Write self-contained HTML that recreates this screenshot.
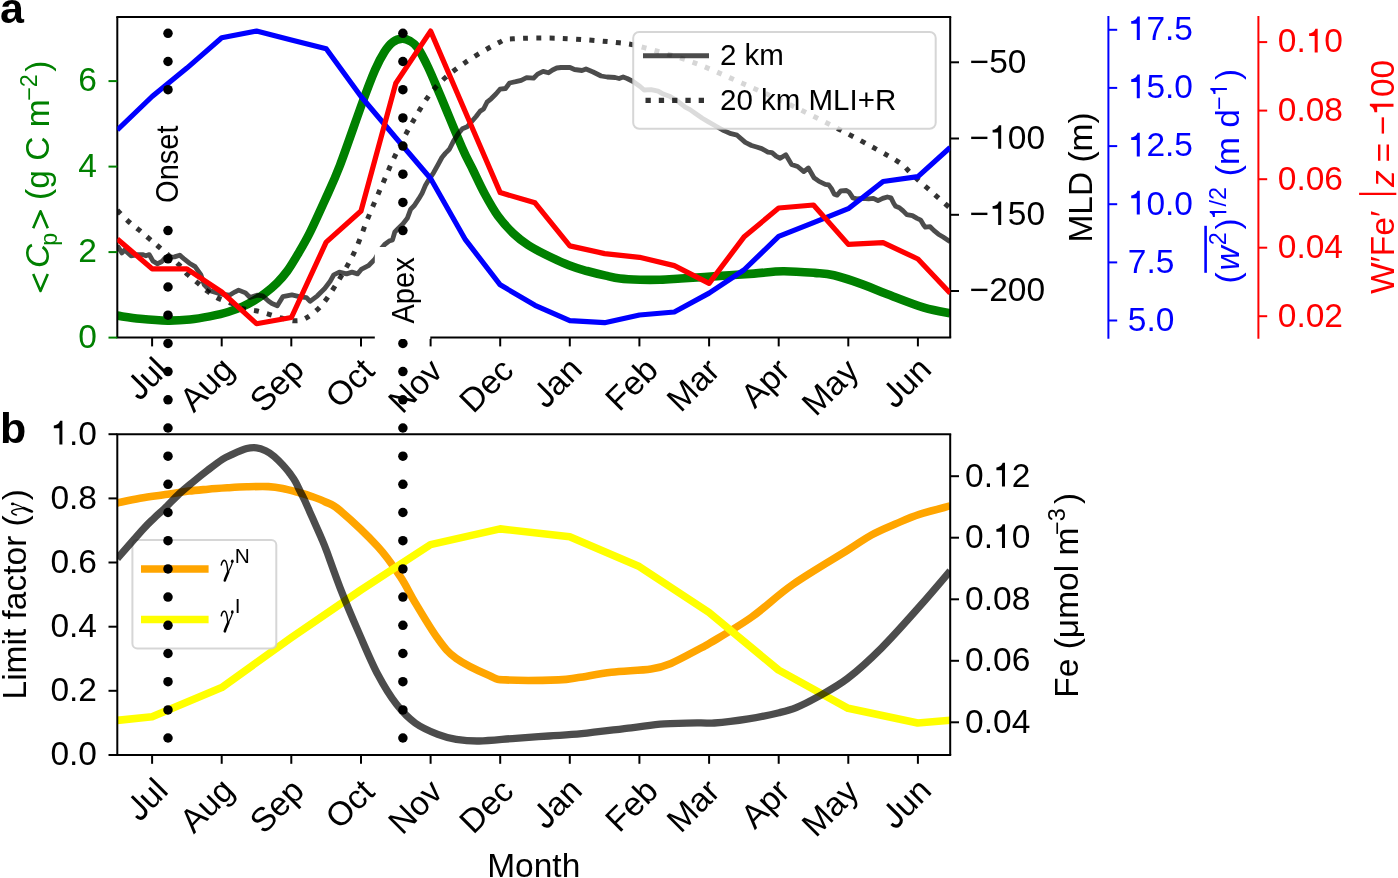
<!DOCTYPE html><html><head><meta charset="utf-8"><style>html,body{margin:0;padding:0;background:#fff;}svg{display:block;will-change:transform;}text{font-family:"Liberation Sans",sans-serif;}</style></head><body><svg width="1398" height="878" viewBox="0 0 1398 878" font-family="Liberation Sans, sans-serif">
<defs><clipPath id="ca"><rect x="117.3" y="16.9" width="832.9" height="320.7"/></clipPath>
<clipPath id="cb"><rect x="117.3" y="434.2" width="832.9" height="320.8"/></clipPath></defs>
<defs><g id="gam" fill="none" stroke="#000" stroke-linecap="round"><path d="M0.7 -9.5 C1.2 -13 2.9 -14.7 4.4 -13.9 C6 -12.9 6.8 -8.5 7.3 -2" stroke-width="1.5"/><path d="M11.8 -13 C11.6 -9.5 9.4 -6 7.4 -2" stroke-width="1.2"/><path d="M7.6 -2.5 C6.4 0.5 4.9 3.5 4.2 6" stroke-width="2.6"/><ellipse cx="11.7" cy="-13.3" rx="1.4" ry="1.7" fill="#000" stroke="none"/></g><path id="J" d="M393 -718 L393 -230 C393 -80 325 -27 222 -27 C120 -27 67 -85 67 -210" fill="none" stroke="#000" stroke-width="92"/><path id="one" d="M268 0 L358 0 L358 -706 L288 -706 C272 -640 222 -577 102 -569 L102 -487 L268 -487 Z"/></defs>
<rect width="1398" height="878" fill="#fff"/>
<g clip-path="url(#ca)">
<path d="M117.3 315.6 C121.1 316.1 131.6 318 140 318.8 C148.4 319.6 159.3 320.5 167.6 320.6 C175.9 320.7 183 320.2 190 319.5 C197 318.8 203.5 317.6 209.8 316.4 C216.1 315.1 222.5 313.7 228 312 C233.5 310.3 238.5 308.4 243 306.4 C247.5 304.4 251.3 302.2 255 300 C258.7 297.8 261.5 295.9 265.2 293.1 C268.9 290.3 273.3 286.7 277 283 C280.7 279.3 283.9 275.7 287.4 270.9 C290.9 266.1 294.3 260.3 298 254 C301.7 247.7 305.1 242.2 309.6 233.2 C314.1 224.2 319.9 211.3 325 200 C330.1 188.7 333.8 181.3 340 165.2 C346.2 149 356.4 119 362.2 103.1 C368 87.2 371.3 78.5 375 70 C378.7 61.5 381.3 56.8 384.3 52.1 C387.3 47.4 390 44.2 393 42 C396 39.8 399.3 38.8 402.1 38.6 C404.9 38.4 407.4 39.5 410 41 C412.6 42.5 414.6 43.4 417.6 47.7 C420.6 52 424.3 59.2 428 67 C431.7 74.8 434.1 80.9 439.8 94.3 C445.5 107.7 456.5 134.9 462 147.5 C467.5 160.1 469.2 162.2 473 170 C476.8 177.8 480.6 186.3 484.8 194 C489 201.7 493.2 209.4 498 216 C502.8 222.6 508.5 228.8 513.5 233.6 C518.5 238.4 522.9 241.6 528 245 C533.1 248.4 537.5 250.6 544.3 254 C551.1 257.4 561.8 262.5 568.9 265.3 C576 268.1 580.9 269.3 587 271 C593.1 272.7 600.3 274.4 605.8 275.6 C611.3 276.9 614.3 277.8 620 278.5 C625.7 279.2 633.3 279.5 640 279.7 C646.7 279.9 653.2 279.9 660 279.7 C666.8 279.5 671.2 279.1 680.8 278.5 C690.3 277.9 705.1 276.9 717.3 276.1 C729.5 275.3 742.8 274.4 753.8 273.6 C764.8 272.8 772.9 271.3 783 271.2 C793.1 271.1 806.1 272.2 814.6 272.9 C823.1 273.6 825.9 273.4 834 275.3 C842.1 277.2 854.3 281.4 863.2 284.6 C872.1 287.8 877.4 290.5 887.5 294.3 C897.6 298.1 913.5 304.5 924 307.7 C934.5 310.9 945.8 312.4 950.2 313.3" fill="none" stroke="#008000" stroke-width="8.6" stroke-linejoin="round" stroke-linecap="butt"/>
</g>
<line x1="116.3" y1="16.9" x2="951.2" y2="16.9" stroke="#000" stroke-width="2"/>
<line x1="116.3" y1="337.6" x2="951.2" y2="337.6" stroke="#000" stroke-width="2"/>
<line x1="117.3" y1="16.9" x2="117.3" y2="337.6" stroke="#000" stroke-width="2"/>
<line x1="950.2" y1="16.9" x2="950.2" y2="337.6" stroke="#000" stroke-width="2"/>
<line x1="108.5" y1="337.6" x2="117.3" y2="337.6" stroke="#008000" stroke-width="2"/>
<text x="97" y="347.9" font-size="33.5" fill="#008000" text-anchor="end" >0</text>
<line x1="108.5" y1="252.1" x2="117.3" y2="252.1" stroke="#008000" stroke-width="2"/>
<text x="97" y="262.4" font-size="33.5" fill="#008000" text-anchor="end" >2</text>
<line x1="108.5" y1="166.6" x2="117.3" y2="166.6" stroke="#008000" stroke-width="2"/>
<text x="97" y="176.9" font-size="33.5" fill="#008000" text-anchor="end" >4</text>
<line x1="108.5" y1="81.1" x2="117.3" y2="81.1" stroke="#008000" stroke-width="2"/>
<text x="97" y="91.4" font-size="33.5" fill="#008000" text-anchor="end" >6</text>
<line x1="152.1" y1="337.6" x2="152.1" y2="346.4" stroke="#000" stroke-width="2"/>
<text x="153.1" y="380.1" font-size="33.5" text-anchor="end" transform="rotate(-45 150.9 355.6)"> ul</text>
<use href="#J" transform="rotate(-45 150.9 355.6) translate(110.3 380.1) scale(0.03350)"/>
<line x1="221.7" y1="337.6" x2="221.7" y2="346.4" stroke="#000" stroke-width="2"/>
<text x="219.2" y="380.1" font-size="33.5" text-anchor="end" transform="rotate(-45 217 355.6)">Aug</text>
<line x1="291.3" y1="337.6" x2="291.3" y2="346.4" stroke="#000" stroke-width="2"/>
<text x="289" y="380.1" font-size="33.5" text-anchor="end" transform="rotate(-45 287.6 355.6)">Sep</text>
<line x1="361" y1="337.6" x2="361" y2="346.4" stroke="#000" stroke-width="2"/>
<text x="359" y="380.1" font-size="33.5" text-anchor="end" transform="rotate(-45 358.8 355.6)">Oct</text>
<line x1="430.6" y1="337.6" x2="430.6" y2="346.4" stroke="#000" stroke-width="2"/>
<text x="427" y="380.1" font-size="33.5" text-anchor="end" transform="rotate(-45 426.9 355.6)">Nov</text>
<line x1="500.2" y1="337.6" x2="500.2" y2="346.4" stroke="#000" stroke-width="2"/>
<text x="498.4" y="380.1" font-size="33.5" text-anchor="end" transform="rotate(-45 497.5 355.6)">Dec</text>
<line x1="569.8" y1="337.6" x2="569.8" y2="346.4" stroke="#000" stroke-width="2"/>
<text x="567.3" y="380.1" font-size="33.5" text-anchor="end" transform="rotate(-45 565.1 355.6)"> an</text>
<use href="#J" transform="rotate(-45 565.1 355.6) translate(513.3 380.1) scale(0.03350)"/>
<line x1="639.4" y1="337.6" x2="639.4" y2="346.4" stroke="#000" stroke-width="2"/>
<text x="643.1" y="380.1" font-size="33.5" text-anchor="end" transform="rotate(-45 641.7 355.6)">Feb</text>
<line x1="709.1" y1="337.6" x2="709.1" y2="346.4" stroke="#000" stroke-width="2"/>
<text x="704.4" y="380.1" font-size="33.5" text-anchor="end" transform="rotate(-45 703.9 355.6)">Mar</text>
<line x1="778.7" y1="337.6" x2="778.7" y2="346.4" stroke="#000" stroke-width="2"/>
<text x="774.5" y="380.1" font-size="33.5" text-anchor="end" transform="rotate(-45 774 355.6)">Apr</text>
<line x1="848.3" y1="337.6" x2="848.3" y2="346.4" stroke="#000" stroke-width="2"/>
<text x="843.2" y="380.1" font-size="33.5" text-anchor="end" transform="rotate(-45 843.1 355.6)">May</text>
<line x1="917.9" y1="337.6" x2="917.9" y2="346.4" stroke="#000" stroke-width="2"/>
<text x="916.4" y="380.1" font-size="33.5" text-anchor="end" transform="rotate(-45 914.2 355.6)"> un</text>
<use href="#J" transform="rotate(-45 914.2 355.6) translate(862.4 380.1) scale(0.03350)"/>
<g clip-path="url(#ca)">
<path d="M117.3 247 L118.4 247.2 L121.9 252.9 L124.7 250 L131 255.8 L137.9 254.6 L142.5 254.6 L145.9 255.8 L149.3 254.6 L152.8 260.9 L157.3 263.8 L161.9 261.5 L165.4 257.5 L174.5 256.9 L179.7 255.2 L183.7 258.6 L189.4 263.2 L195.1 266.6 L200.8 274.6 L204.3 284.9 L210 290.7 L215.7 292.4 L221.4 294.1 L229.4 295.2 L235.2 291.8 L238.6 290.1 L245.5 292.9 L250 297.5 L256.9 295.2 L262.6 295.8 L268.4 301 L272 303.5 L277.3 305.8 L282.8 296.7 L291.9 294.9 L299.2 296.7 L306.5 297.6 L310.1 301.3 L317.4 295.8 L324.7 288.5 L330.2 281.2 L333.8 274.8 L339.3 272.1 L346.6 273.9 L352 272.1 L357.5 273.9 L361.2 269.4 L368.4 265.7 L374.8 259.3 L380 250 L384.6 244.5 L389.1 241.1 L392.5 239.9 L394.8 232 L398.2 228.5 L402.8 224 L407.3 218.3 L410.7 209.2 L414.1 205.8 L418.7 198.9 L422.1 193.2 L425.5 185.3 L428.9 179.6 L433.5 172.8 L438 164.8 L441.9 157.5 L445.3 153.4 L449.4 149.3 L453.5 141.1 L458.3 133.6 L462.4 128.8 L467.2 126.8 L471.3 122 L476.1 116.5 L480.2 111.1 L483.6 109 L487 102.2 L491.1 98.8 L495.9 94 L500 89.2 L505.5 88.5 L509.6 83 L515.7 81.7 L521.2 80.3 L526.6 77.6 L533.5 78.2 L537.6 74.1 L543.1 71.4 L548.5 72.8 L552.6 70 L556.7 68 L561 67.5 L570 67.5 L574.5 69.5 L582 70.5 L586 69 L593.1 72 L601.1 76 L607.1 77 L615.1 77.5 L619.1 78.5 L623.1 77 L627.1 78.5 L633.1 81.5 L640.1 86.5 L644.1 90 L651.1 89.6 L658.1 91.1 L663.2 94.1 L670.2 96.6 L678.2 101.6 L685.2 107.1 L690 109.6 L695.1 113.2 L702.3 118.3 L708.4 121.9 L716.6 126.5 L723.8 130.6 L731 133.7 L737.1 135.2 L745.3 142.4 L751.5 145.5 L756.6 147 L761.7 148.6 L767.9 152.1 L772 152.7 L776.1 156.2 L780.2 158.3 L785.8 154.7 L791.5 164.4 L797.6 166.5 L803.8 171.6 L808.4 168 L814 177.8 L819.1 181.4 L825.3 184.3 L828.7 184.9 L831.5 188.6 L834.3 194.2 L837.1 195.1 L840.8 190.9 L846.4 190.5 L849.2 192.3 L852.9 197.9 L856.6 198.8 L862.2 198.4 L868.7 198.8 L873.4 198.4 L878 200.7 L882.7 198.4 L887.3 197 L891 197.9 L893.8 203.5 L895.7 206.3 L899.4 207.7 L903.1 210.9 L906.8 214.6 L912.4 215.6 L917.1 218.4 L920.8 220.2 L923.6 224.9 L925.4 227.2 L930.1 226.7 L933.8 230.4 L938.4 234.2 L943.1 237 L948.7 240.7 L950.2 241.6" fill="none" stroke="#000" stroke-width="4.8" stroke-linejoin="round" stroke-opacity="0.7"/>
<path d="M117.3 210.3 C119.1 212.1 124.8 218.1 128.3 221.3 C131.9 224.5 135.2 226.8 138.6 229.6 C142 232.4 145.3 235.4 148.6 238.2 C151.9 241 153.4 242.2 158.4 246.5 C163.4 250.8 173.6 259.6 178.5 264.3 C183.4 269 184.4 271.5 187.7 274.6 C190.9 277.8 194.6 280.3 198 283.2 C201.4 286.1 204.8 289.2 208.3 291.8 C211.8 294.4 215.3 296.8 219.1 298.7 C222.9 300.6 227.1 301.5 231.2 303.2 C235.3 304.9 239.7 307.8 243.8 309 C247.9 310.2 251.7 309.8 255.8 310.7 C259.9 311.6 264.2 312.9 268.4 314.1 C272.6 315.3 276.7 316.9 281 318 C285.3 319.1 290 320.7 294 320.8 C298 320.9 300.7 321 305.1 318.6 C309.5 316.2 315.4 312.1 320.6 306.4 C325.8 300.7 330.6 293.1 336.2 284.2 C341.8 275.3 348.7 263.9 353.9 253.2 C359.1 242.5 363.5 228.9 367.2 219.9 C370.9 210.9 373.2 205.5 376 199 C378.8 192.5 380.9 187.8 384 180.7 C387.1 173.6 389.9 166.3 394.8 156.3 C399.7 146.3 406.4 132.4 413.2 120.9 C419.9 109.5 426.8 97.2 435.3 87.6 C443.8 78 453.5 70.8 464.2 63.2 C474.9 55.6 491.5 46.3 499.6 42.2 C507.7 38.1 502.6 39.4 513 38.8 C523.4 38.2 544 37.7 561.7 38.4 C579.4 39.1 605.6 41.2 619.4 42.8 C633.2 44.3 632 44.5 644.3 47.7 C656.6 51 676.8 56.4 693 62.3 C709.2 68.2 725.4 75.9 741.6 83 C757.8 90.1 774 97.1 790.2 104.8 C806.4 112.5 824.7 121.9 838.9 129.2 C853.1 136.5 865.1 143 875.3 148.6 C885.5 154.2 894.3 159.1 900 163 C905.7 166.9 906.4 168.9 909.6 171.9 C912.8 174.9 916.1 178.2 919.4 181.2 C922.7 184.2 926.3 187.1 929.6 190 C932.9 192.9 936 195.8 939.4 198.8 C942.8 201.8 948.4 206.6 950.2 208.2" fill="none" stroke="#000" stroke-width="5" stroke-linejoin="round" stroke-opacity="0.8" stroke-dasharray="5 8.25" stroke-linejoin="miter"/>
</g>
<line x1="950.2" y1="62.3" x2="959" y2="62.3" stroke="#000" stroke-width="2"/>
<text x="969.6" y="72.6" font-size="33.5" fill="#000" text-anchor="start" >−50</text>
<line x1="950.2" y1="138.5" x2="959" y2="138.5" stroke="#000" stroke-width="2"/>
<text x="969.6" y="148.8" font-size="33.5" fill="#000">− 00</text>
<use href="#one" fill="#000" transform="translate(989.2 148.8) scale(0.03350)"/>
<line x1="950.2" y1="214.8" x2="959" y2="214.8" stroke="#000" stroke-width="2"/>
<text x="969.6" y="225.1" font-size="33.5" fill="#000">− 50</text>
<use href="#one" fill="#000" transform="translate(989.2 225.1) scale(0.03350)"/>
<line x1="950.2" y1="291" x2="959" y2="291" stroke="#000" stroke-width="2"/>
<text x="969.6" y="301.3" font-size="33.5" fill="#000" text-anchor="start" >−200</text>
<rect x="633.2" y="32" width="302.5" height="96.8" rx="6" fill="#fff" fill-opacity="0.8" stroke="#ccc" stroke-opacity="0.8" stroke-width="2"/>
<line x1="643" y1="55.7" x2="709" y2="55.7" stroke="#000" stroke-opacity="0.7" stroke-width="5"/>
<line x1="643" y1="100.3" x2="709" y2="100.3" stroke="#000" stroke-opacity="0.8" stroke-width="5.3" stroke-dasharray="5.3 8" stroke-dashoffset="10.8"/>
<text x="720" y="65.3" font-size="29.5" fill="#000" text-anchor="start" >2 km</text>
<text x="720" y="110.2" font-size="29.5" fill="#000" text-anchor="start" >20 km MLI+R</text>
<g clip-path="url(#ca)">
<path d="M117.3 130 L152.1 96.5 L186.9 68.1 L221.7 37.7 L256.5 31.1 L291.4 40 L326.2 48.8 L361 96.5 L395.8 137.7 L430.6 178.5 L465.4 239.7 L500.2 284.8 L535 305.3 L569.8 320.7 L604.6 322.7 L639.5 315 L674.3 312 L709.1 293.1 L743.9 270 L778.7 236.4 L813.5 222.6 L848.3 208.7 L883.1 181.5 L917.9 176.6 L950.2 147.4" fill="none" stroke="#0000ff" stroke-width="5.2" stroke-linejoin="round" />
<path d="M117.3 239 L152.1 268.8 L186.9 268.8 L221.7 292 L256.5 323.7 L291.4 317.5 L326.2 242.1 L361 211 L395.8 83.2 L430.6 31.1 L465.4 112 L500.2 192.6 L535 202.8 L569.8 245.9 L604.6 253.6 L639.5 257.3 L674.3 265.6 L709.1 283.4 L743.9 237.1 L778.7 208 L813.5 205 L848.3 244.4 L883.1 242.7 L917.9 259 L950.2 293.1" fill="none" stroke="#ff0000" stroke-width="5.2" stroke-linejoin="round" />
</g>
<line x1="1108.4" y1="16.1" x2="1108.4" y2="338.7" stroke="#0000ff" stroke-width="2"/>
<line x1="1108.4" y1="29.8" x2="1117.2" y2="29.8" stroke="#0000ff" stroke-width="2"/>
<text x="1127.8" y="40.1" font-size="33.5" fill="#0000ff"> 7.5</text>
<use href="#one" fill="#0000ff" transform="translate(1127.8 40.1) scale(0.03350)"/>
<line x1="1108.4" y1="87.9" x2="1117.2" y2="87.9" stroke="#0000ff" stroke-width="2"/>
<text x="1127.8" y="98.2" font-size="33.5" fill="#0000ff"> 5.0</text>
<use href="#one" fill="#0000ff" transform="translate(1127.8 98.2) scale(0.03350)"/>
<line x1="1108.4" y1="146.1" x2="1117.2" y2="146.1" stroke="#0000ff" stroke-width="2"/>
<text x="1127.8" y="156.4" font-size="33.5" fill="#0000ff"> 2.5</text>
<use href="#one" fill="#0000ff" transform="translate(1127.8 156.4) scale(0.03350)"/>
<line x1="1108.4" y1="204.2" x2="1117.2" y2="204.2" stroke="#0000ff" stroke-width="2"/>
<text x="1127.8" y="214.5" font-size="33.5" fill="#0000ff"> 0.0</text>
<use href="#one" fill="#0000ff" transform="translate(1127.8 214.5) scale(0.03350)"/>
<line x1="1108.4" y1="262.4" x2="1117.2" y2="262.4" stroke="#0000ff" stroke-width="2"/>
<text x="1127.8" y="272.7" font-size="33.5" fill="#0000ff" text-anchor="start" >7.5</text>
<line x1="1108.4" y1="320.5" x2="1117.2" y2="320.5" stroke="#0000ff" stroke-width="2"/>
<text x="1127.8" y="330.8" font-size="33.5" fill="#0000ff" text-anchor="start" >5.0</text>
<line x1="1258.4" y1="16.1" x2="1258.4" y2="338.7" stroke="#ff0000" stroke-width="2"/>
<line x1="1258.4" y1="42.1" x2="1267.2" y2="42.1" stroke="#ff0000" stroke-width="2"/>
<text x="1277.8" y="52.4" font-size="33.5" fill="#ff0000">0. 0</text>
<use href="#one" fill="#ff0000" transform="translate(1305.7 52.4) scale(0.03350)"/>
<line x1="1258.4" y1="110.6" x2="1267.2" y2="110.6" stroke="#ff0000" stroke-width="2"/>
<text x="1277.8" y="120.9" font-size="33.5" fill="#ff0000" text-anchor="start" >0.08</text>
<line x1="1258.4" y1="179.2" x2="1267.2" y2="179.2" stroke="#ff0000" stroke-width="2"/>
<text x="1277.8" y="189.5" font-size="33.5" fill="#ff0000" text-anchor="start" >0.06</text>
<line x1="1258.4" y1="247.7" x2="1267.2" y2="247.7" stroke="#ff0000" stroke-width="2"/>
<text x="1277.8" y="258" font-size="33.5" fill="#ff0000" text-anchor="start" >0.04</text>
<line x1="1258.4" y1="316.2" x2="1267.2" y2="316.2" stroke="#ff0000" stroke-width="2"/>
<text x="1277.8" y="326.5" font-size="33.5" fill="#ff0000" text-anchor="start" >0.02</text>
<g clip-path="url(#cb)">
<path d="M117.3 503 C121.1 502.2 131.3 499.7 140 498.2 C148.7 496.7 161.3 495.2 169.4 494 C177.5 492.8 182.2 491.9 188.7 491.1 C195.1 490.3 201.6 489.8 208.1 489.2 C214.6 488.6 220.9 488.2 227.4 487.8 C233.9 487.4 240 487 246.8 486.8 C253.7 486.6 262.5 486.3 268.5 486.6 C274.5 486.9 277.9 487.5 282.7 488.4 C287.4 489.3 292.2 490.7 297 492 C301.8 493.3 306.4 494.6 311.2 496.3 C315.9 498 320.7 499.6 325.5 502 C330.3 504.4 331.3 503.1 340 510.5 C348.7 517.9 367.6 535.5 377.7 546.5 C387.8 557.5 394 567.2 400.3 576.6 C406.6 586 409.1 592.6 415.3 602.9 C421.6 613.2 431 629.4 437.8 638.6 C444.6 647.9 447.6 652.2 456.2 658.4 C464.8 664.6 480.9 672 489.2 675.6 C497.4 679.2 494.1 679.2 505.7 679.9 C517.3 680.6 546.5 680.3 558.6 679.9 C570.7 679.5 569.6 678.9 578.4 677.6 C587.2 676.3 599.3 673.7 611.4 672.3 C623.5 670.9 641.2 670.5 651.1 669 C661 667.5 662.8 666.8 670.9 663.4 C679 660 693.4 652 700 648.5 C706.6 645 702.2 647.9 710.8 642.6 C719.4 637.4 738.1 626.7 751.8 617 C765.5 607.3 776.8 595.6 792.8 584.5 C808.8 573.4 834.4 558.5 847.5 550.3 C860.6 542 863.5 539.4 871.5 535 C879.5 530.6 887.4 527.4 895.4 524 C903.4 520.6 910.2 517.4 919.3 514.4 C928.4 511.4 945.1 507.3 950.2 505.9" fill="none" stroke="#ffa500" stroke-width="7.6" stroke-linejoin="round" />
<path d="M117.3 720.4 L152.1 716.8 L221.7 687.6 L291.3 637.7 L360.9 590 L430.5 544.6 L500.1 528.9 L569.7 536.8 L639.3 566.6 L708.9 612.4 L778.5 670 L848.1 708.3 L917.7 723 L950.2 720.3" fill="none" stroke="#ffff00" stroke-width="7.6" stroke-linejoin="round" />
</g>
<line x1="116.3" y1="434.2" x2="951.2" y2="434.2" stroke="#000" stroke-width="2"/>
<line x1="116.3" y1="755" x2="951.2" y2="755" stroke="#000" stroke-width="2"/>
<line x1="117.3" y1="434.2" x2="117.3" y2="755" stroke="#000" stroke-width="2"/>
<line x1="950.2" y1="434.2" x2="950.2" y2="755" stroke="#000" stroke-width="2"/>
<line x1="108.5" y1="755" x2="117.3" y2="755" stroke="#000" stroke-width="2"/>
<text x="97" y="765.3" font-size="33.5" fill="#000" text-anchor="end" >0.0</text>
<line x1="108.5" y1="690.8" x2="117.3" y2="690.8" stroke="#000" stroke-width="2"/>
<text x="97" y="701.1" font-size="33.5" fill="#000" text-anchor="end" >0.2</text>
<line x1="108.5" y1="626.7" x2="117.3" y2="626.7" stroke="#000" stroke-width="2"/>
<text x="97" y="637" font-size="33.5" fill="#000" text-anchor="end" >0.4</text>
<line x1="108.5" y1="562.5" x2="117.3" y2="562.5" stroke="#000" stroke-width="2"/>
<text x="97" y="572.8" font-size="33.5" fill="#000" text-anchor="end" >0.6</text>
<line x1="108.5" y1="498.4" x2="117.3" y2="498.4" stroke="#000" stroke-width="2"/>
<text x="97" y="508.7" font-size="33.5" fill="#000" text-anchor="end" >0.8</text>
<line x1="108.5" y1="434.2" x2="117.3" y2="434.2" stroke="#000" stroke-width="2"/>
<text x="50.4" y="444.5" font-size="33.5" fill="#000"> .0</text>
<use href="#one" fill="#000" transform="translate(50.4 444.5) scale(0.03350)"/>
<line x1="152.1" y1="755" x2="152.1" y2="763.8" stroke="#000" stroke-width="2"/>
<text x="153.1" y="801" font-size="33.5" text-anchor="end" transform="rotate(-45 150.9 776.5)"> ul</text>
<use href="#J" transform="rotate(-45 150.9 776.5) translate(110.3 801) scale(0.03350)"/>
<line x1="221.7" y1="755" x2="221.7" y2="763.8" stroke="#000" stroke-width="2"/>
<text x="219.2" y="801" font-size="33.5" text-anchor="end" transform="rotate(-45 217 776.5)">Aug</text>
<line x1="291.3" y1="755" x2="291.3" y2="763.8" stroke="#000" stroke-width="2"/>
<text x="289" y="801" font-size="33.5" text-anchor="end" transform="rotate(-45 287.6 776.5)">Sep</text>
<line x1="361" y1="755" x2="361" y2="763.8" stroke="#000" stroke-width="2"/>
<text x="359" y="801" font-size="33.5" text-anchor="end" transform="rotate(-45 358.8 776.5)">Oct</text>
<line x1="430.6" y1="755" x2="430.6" y2="763.8" stroke="#000" stroke-width="2"/>
<text x="427" y="801" font-size="33.5" text-anchor="end" transform="rotate(-45 426.9 776.5)">Nov</text>
<line x1="500.2" y1="755" x2="500.2" y2="763.8" stroke="#000" stroke-width="2"/>
<text x="498.4" y="801" font-size="33.5" text-anchor="end" transform="rotate(-45 497.5 776.5)">Dec</text>
<line x1="569.8" y1="755" x2="569.8" y2="763.8" stroke="#000" stroke-width="2"/>
<text x="567.3" y="801" font-size="33.5" text-anchor="end" transform="rotate(-45 565.1 776.5)"> an</text>
<use href="#J" transform="rotate(-45 565.1 776.5) translate(513.3 801) scale(0.03350)"/>
<line x1="639.4" y1="755" x2="639.4" y2="763.8" stroke="#000" stroke-width="2"/>
<text x="643.1" y="801" font-size="33.5" text-anchor="end" transform="rotate(-45 641.7 776.5)">Feb</text>
<line x1="709.1" y1="755" x2="709.1" y2="763.8" stroke="#000" stroke-width="2"/>
<text x="704.4" y="801" font-size="33.5" text-anchor="end" transform="rotate(-45 703.9 776.5)">Mar</text>
<line x1="778.7" y1="755" x2="778.7" y2="763.8" stroke="#000" stroke-width="2"/>
<text x="774.5" y="801" font-size="33.5" text-anchor="end" transform="rotate(-45 774 776.5)">Apr</text>
<line x1="848.3" y1="755" x2="848.3" y2="763.8" stroke="#000" stroke-width="2"/>
<text x="843.2" y="801" font-size="33.5" text-anchor="end" transform="rotate(-45 843.1 776.5)">May</text>
<line x1="917.9" y1="755" x2="917.9" y2="763.8" stroke="#000" stroke-width="2"/>
<text x="916.4" y="801" font-size="33.5" text-anchor="end" transform="rotate(-45 914.2 776.5)"> un</text>
<use href="#J" transform="rotate(-45 914.2 776.5) translate(862.4 801) scale(0.03350)"/>
<rect x="132.4" y="540.1" width="143.9" height="108.3" rx="5" fill="#fff" fill-opacity="0.8" stroke="#ccc" stroke-opacity="0.8" stroke-width="2"/>
<line x1="141" y1="569" x2="208.6" y2="569" stroke="#ffa500" stroke-width="7.4"/>
<line x1="141" y1="619.5" x2="208.6" y2="619.5" stroke="#ffff00" stroke-width="7.4"/>
<use href="#gam" transform="translate(220.6 574.5)"/>
<text x="234.8" y="562.5" font-size="20.8">N</text>
<use href="#gam" transform="translate(220.6 625.3)"/>
<text x="234.8" y="612.6" font-size="20.8">I</text>
<g clip-path="url(#cb)">
<path d="M117.3 558.5 C121.6 553.6 137.2 535.7 143.3 529 C149.4 522.3 150.4 521.7 153.9 518.3 C157.4 514.9 160.3 512.6 164.5 508.6 C168.7 504.6 174.2 498.5 179 494 C183.8 489.5 188.8 485.5 193.6 481.5 C198.4 477.5 203.3 473.6 208.1 469.9 C212.9 466.2 218.6 461.8 222.6 459.2 C226.6 456.6 228.3 456.2 232.3 454.4 C236.3 452.6 242.8 449.7 246.8 448.6 C250.8 447.5 253.4 447.5 256.5 447.8 C259.6 448.1 262.7 449.3 265.6 450.7 C268.6 452.1 271.4 454 274.2 456.4 C277 458.8 280.1 462 282.7 464.9 C285.3 467.8 287.8 470.6 289.9 473.5 C292 476.4 294 479.1 295.6 482 C297.2 484.9 298.4 487.8 299.8 490.6 C301.2 493.5 302.4 495.6 304.1 499.1 C305.8 502.7 307.9 507.6 309.8 511.9 C311.7 516.2 313.6 520.4 315.5 524.7 C317.4 529 319.3 533.1 321.2 537.6 C323.1 542.1 323.8 543.4 326.9 551.8 C330 560.2 334.8 574.3 340.1 587.8 C345.4 601.3 352.6 618.5 358.9 632.9 C365.2 647.3 371.4 662.4 377.7 674.3 C384 686.2 390.2 696.2 396.5 704.3 C402.8 712.4 408.4 718.1 415.3 723.1 C422.2 728.1 431 731.7 437.8 734.4 C444.6 737.1 449.3 738.2 456.2 739.3 C463.1 740.4 469.4 741.2 479.3 741 C489.2 740.8 504 739.1 515.6 738.3 C527.2 737.5 537.7 736.8 548.7 736 C559.7 735.2 567.9 735.1 581.7 733.7 C595.5 732.3 617.5 729.4 631.3 727.8 C645.1 726.1 652.8 724.6 664.3 723.8 C675.8 723 691.7 722.9 700 722.8 C708.3 722.7 706.1 723.6 714.2 723 C722.3 722.4 737.6 720.6 748.4 718.9 C759.2 717.2 771.1 714.6 779.1 712.7 C787.1 710.8 789.9 710.2 796.2 707.6 C802.5 705 808.2 702.2 816.8 697.4 C825.3 692.5 836.7 686.8 847.5 678.5 C858.3 670.2 869.7 659.8 881.7 647.8 C893.7 635.8 907.9 619.6 919.3 606.8 C930.7 594 945.1 576.9 950.2 570.9" fill="none" stroke="#000" stroke-width="7.3" stroke-linejoin="round" stroke-opacity="0.7"/>
</g>
<line x1="950.2" y1="476.2" x2="959" y2="476.2" stroke="#000" stroke-width="2"/>
<text x="965.1" y="486.5" font-size="33.5" fill="#000">0. 2</text>
<use href="#one" fill="#000" transform="translate(993 486.5) scale(0.03350)"/>
<line x1="950.2" y1="537.7" x2="959" y2="537.7" stroke="#000" stroke-width="2"/>
<text x="965.1" y="548" font-size="33.5" fill="#000">0. 0</text>
<use href="#one" fill="#000" transform="translate(993 548) scale(0.03350)"/>
<line x1="950.2" y1="599.3" x2="959" y2="599.3" stroke="#000" stroke-width="2"/>
<text x="965.1" y="609.6" font-size="33.5" fill="#000" text-anchor="start" >0.08</text>
<line x1="950.2" y1="660.8" x2="959" y2="660.8" stroke="#000" stroke-width="2"/>
<text x="965.1" y="671.1" font-size="33.5" fill="#000" text-anchor="start" >0.06</text>
<line x1="950.2" y1="722.3" x2="959" y2="722.3" stroke="#000" stroke-width="2"/>
<text x="965.1" y="732.6" font-size="33.5" fill="#000" text-anchor="start" >0.04</text>
<circle cx="168" cy="33.3" r="4.75" fill="#000"/>
<circle cx="168" cy="61.5" r="4.75" fill="#000"/>
<circle cx="168" cy="89.7" r="4.75" fill="#000"/>
<circle cx="168" cy="117.9" r="4.75" fill="#000"/>
<circle cx="168" cy="146.1" r="4.75" fill="#000"/>
<circle cx="168" cy="174.2" r="4.75" fill="#000"/>
<circle cx="168" cy="202.4" r="4.75" fill="#000"/>
<circle cx="168" cy="230.6" r="4.75" fill="#000"/>
<circle cx="168" cy="258.8" r="4.75" fill="#000"/>
<circle cx="168" cy="287" r="4.75" fill="#000"/>
<circle cx="168" cy="315.2" r="4.75" fill="#000"/>
<circle cx="168" cy="343.4" r="4.75" fill="#000"/>
<circle cx="168" cy="371.6" r="4.75" fill="#000"/>
<circle cx="168" cy="399.8" r="4.75" fill="#000"/>
<circle cx="168" cy="428" r="4.75" fill="#000"/>
<circle cx="168" cy="456.2" r="4.75" fill="#000"/>
<circle cx="168" cy="484.3" r="4.75" fill="#000"/>
<circle cx="168" cy="512.5" r="4.75" fill="#000"/>
<circle cx="168" cy="540.7" r="4.75" fill="#000"/>
<circle cx="168" cy="568.9" r="4.75" fill="#000"/>
<circle cx="168" cy="597.1" r="4.75" fill="#000"/>
<circle cx="168" cy="625.3" r="4.75" fill="#000"/>
<circle cx="168" cy="653.5" r="4.75" fill="#000"/>
<circle cx="168" cy="681.7" r="4.75" fill="#000"/>
<circle cx="168" cy="709.9" r="4.75" fill="#000"/>
<circle cx="168" cy="738" r="4.75" fill="#000"/>
<circle cx="402.9" cy="33.3" r="4.75" fill="#000"/>
<circle cx="402.9" cy="61.5" r="4.75" fill="#000"/>
<circle cx="402.9" cy="89.7" r="4.75" fill="#000"/>
<circle cx="402.9" cy="117.9" r="4.75" fill="#000"/>
<circle cx="402.9" cy="146.1" r="4.75" fill="#000"/>
<circle cx="402.9" cy="174.2" r="4.75" fill="#000"/>
<circle cx="402.9" cy="202.4" r="4.75" fill="#000"/>
<circle cx="402.9" cy="230.6" r="4.75" fill="#000"/>
<circle cx="402.9" cy="258.8" r="4.75" fill="#000"/>
<circle cx="402.9" cy="287" r="4.75" fill="#000"/>
<circle cx="402.9" cy="315.2" r="4.75" fill="#000"/>
<circle cx="402.9" cy="343.4" r="4.75" fill="#000"/>
<circle cx="402.9" cy="371.6" r="4.75" fill="#000"/>
<circle cx="402.9" cy="399.8" r="4.75" fill="#000"/>
<circle cx="402.9" cy="428" r="4.75" fill="#000"/>
<circle cx="402.9" cy="456.2" r="4.75" fill="#000"/>
<circle cx="402.9" cy="484.3" r="4.75" fill="#000"/>
<circle cx="402.9" cy="512.5" r="4.75" fill="#000"/>
<circle cx="402.9" cy="540.7" r="4.75" fill="#000"/>
<circle cx="402.9" cy="568.9" r="4.75" fill="#000"/>
<circle cx="402.9" cy="597.1" r="4.75" fill="#000"/>
<circle cx="402.9" cy="625.3" r="4.75" fill="#000"/>
<circle cx="402.9" cy="653.5" r="4.75" fill="#000"/>
<circle cx="402.9" cy="681.7" r="4.75" fill="#000"/>
<circle cx="402.9" cy="709.9" r="4.75" fill="#000"/>
<circle cx="402.9" cy="738" r="4.75" fill="#000"/>
<rect x="140.5" y="112" width="55" height="104" fill="#fff"/>
<text x="0" y="0" font-size="29.5" text-anchor="middle" transform="translate(177.6 164.2) rotate(-90) scale(0.985 1.06)">Onset</text>
<rect x="374.8" y="247" width="55.5" height="92" fill="#fff"/>
<text x="0" y="0" font-size="29.5" text-anchor="middle" transform="translate(414 290.4) rotate(-90) scale(0.985 1.06)">Apex</text>
<g transform="translate(49.4 294) rotate(-90)"><text fill="#008000"><tspan font-size="33.5" y="0" font-style="italic" x="26.1">C</tspan><tspan font-size="23.4" y="7.4" x="48.3">p</tspan><tspan font-size="33.5" y="0" x="94.1">(g C m</tspan><tspan font-size="23.4" y="-12.6" x="193.2">−2</tspan><tspan font-size="33.5" y="0" x="222.3">)</tspan></text><path d="M20 -16.2 L3 -8.9 L20 -1.6 M65.7 -16.2 L82.7 -8.9 L65.7 -1.6" fill="none" stroke="#008000" stroke-width="2.6" stroke-linejoin="round"/></g>
<g transform="translate(1091.6 240) rotate(-90)"><text fill="#000"><tspan font-size="33.5" y="0" x="-2.6">MLD (m)</tspan></text></g>
<g transform="translate(1238.8 281.5) rotate(-90)"><text fill="#0000ff"><tspan font-size="33.5" y="0" x="-2.1">(</tspan><tspan font-size="33.5" y="0" font-style="italic" x="11">w</tspan><tspan font-size="23.4" y="-12.5" x="36.2">2</tspan><tspan font-size="33.5" y="0" x="51.9">)</tspan><tspan font-size="23.4" y="-12.5" x="62.1"> /2</tspan><tspan font-size="33.5" y="0" x="105.3">(m d</tspan><tspan font-size="23.4" y="-11.9" x="171.4">− </tspan><tspan font-size="33.5" y="0" x="201.5">)</tspan></text><use href="#one" fill="#0000ff" transform="translate(62.1 -12.5) scale(0.02345)"/><use href="#one" fill="#0000ff" transform="translate(185.1 -11.9) scale(0.02345)"/></g>
<line x1="1205.6" y1="225.8" x2="1205.6" y2="272.8" stroke="#0000ff" stroke-width="2.6"/>
<g transform="translate(1393.5 294.5) rotate(-90)"><text fill="#ff0000"><tspan font-size="33.5" y="0" x="0.4">W′Fe′</tspan><tspan font-size="33.5" y="0" font-style="italic" x="107.4">z</tspan><tspan font-size="33.5" y="1.5" x="132.1">=</tspan><tspan font-size="33.5" y="0" x="159.2">− 00</tspan></text><use href="#one" fill="#ff0000" transform="translate(178.8 0) scale(0.03350)"/></g>
<line x1="1359.1" y1="193.9" x2="1396.3" y2="193.9" stroke="#ff0000" stroke-width="2.2"/>
<g transform="translate(25.9 696.8) rotate(-90)"><text fill="#000"><tspan font-size="33.5" y="0" x="-2.7">Limit factor</tspan><tspan font-size="33.5" y="0" x="170.4">(</tspan><tspan font-size="33.5" y="0" x="196.5">)</tspan></text><use href="#gam" transform="translate(181.2 0)"/></g>
<g transform="translate(1077.5 695) rotate(-90)"><text fill="#000"><tspan font-size="33.5" y="0" x="-2.7">Fe (μmol m</tspan><tspan font-size="23.4" y="-12.6" x="160">−3</tspan><tspan font-size="33.5" y="0" x="191">)</tspan></text></g>
<text x="533.75" y="877.3" font-size="33.5" text-anchor="middle">Month</text>
<text x="0" y="22.5" font-size="43" font-weight="bold">a</text>
<text x="0" y="443" font-size="43" font-weight="bold">b</text>
</svg></body></html>
